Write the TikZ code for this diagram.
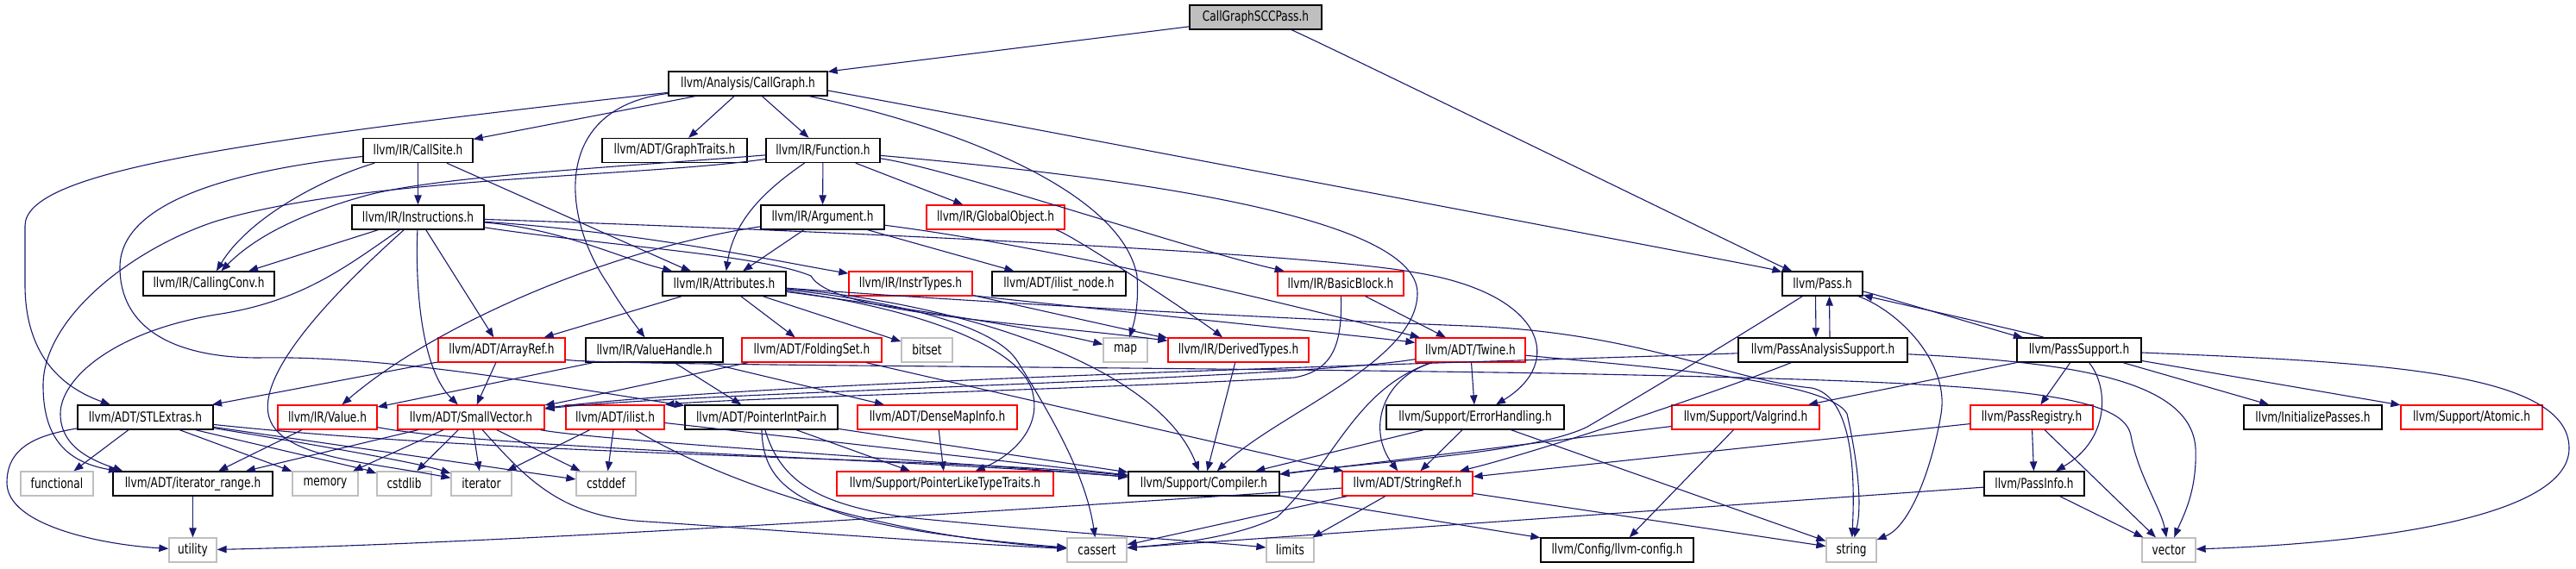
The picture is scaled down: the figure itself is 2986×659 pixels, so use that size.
\documentclass[tikz,border=0pt]{standalone}
\usepackage{fontspec}
\newfontfamily\nodefont{DejaVu Sans}[FakeStretch=0.76]
\usetikzlibrary{arrows.meta}
\definecolor{edgec}{HTML}{191970}
\definecolor{sysc}{HTML}{BFBFBF}
\definecolor{redc}{HTML}{FF0000}
\tikzset{
  box/.style={draw=black, line width=0.65pt, minimum height=14pt, inner sep=0pt, text=black, font=\nodefont\fontsize{8pt}{9pt}\selectfont},
  trunc/.style={box, draw=redc},
  sys/.style={box, draw=sysc},
  rootbox/.style={box, fill=sysc},
  e/.style={draw=edgec, line width=0.55pt, -{Triangle[length=5.5pt,width=4.2pt]}},
}
\begin{document}
\begin{tikzpicture}[x=0.5pt,y=-0.5pt]
\useasboundingbox (0,0) rectangle (2986,659);
% nodes
\node[rootbox,minimum width=76.5pt] (root) at (1455.5,20) {CallGraphSCCPass.h};
\node[box,minimum width=92pt] (cg) at (867,97) {llvm/Analysis/CallGraph.h};
\node[box,minimum width=63.5pt] (cs) at (484.5,174.5) {llvm/IR/CallSite.h};
\node[box,minimum width=84pt] (gt) at (782,174.5) {llvm/ADT/GraphTraits.h};
\node[box,minimum width=66pt] (fn) at (954,174.5) {llvm/IR/Function.h};
\node[box,minimum width=76.5pt] (ins) at (484.5,252) {llvm/IR/Instructions.h};
\node[box,minimum width=71.5pt] (arg) at (953.5,252) {llvm/IR/Argument.h};
\node[trunc,minimum width=80pt] (go) at (1154,252) {llvm/IR/GlobalObject.h};
\node[box,minimum width=76pt] (cc) at (242,329) {llvm/IR/CallingConv.h};
\node[box,minimum width=71.5pt] (attr) at (839.5,329) {llvm/IR/Attributes.h};
\node[trunc,minimum width=71.5pt] (it) at (1055.5,329) {llvm/IR/InstrTypes.h};
\node[box,minimum width=77.5pt] (iln) at (1227.5,329) {llvm/ADT/ilist\_node.h};
\node[trunc,minimum width=73pt] (bb) at (1554,329) {llvm/IR/BasicBlock.h};
\node[box,minimum width=46.5pt] (pass) at (2112.5,329) {llvm/Pass.h};
\node[trunc,minimum width=73.5pt] (ar) at (581.5,406) {llvm/ADT/ArrayRef.h};
\node[box,minimum width=79.5pt] (vh) at (758.5,406) {llvm/IR/ValueHandle.h};
\node[trunc,minimum width=81pt] (fs) at (941,406) {llvm/ADT/FoldingSet.h};
\node[sys,minimum width=29.5pt] (bitset) at (1074.5,406) {bitset};
\node[sys,minimum width=25.5pt] (map) at (1304.5,406) {map};
\node[trunc,minimum width=81.5pt] (dt) at (1435.5,406) {llvm/IR/DerivedTypes.h};
\node[trunc,minimum width=63.5pt] (tw) at (1704.5,406) {llvm/ADT/Twine.h};
\node[box,minimum width=98pt] (pas) at (2113,406) {llvm/PassAnalysisSupport.h};
\node[box,minimum width=72pt] (ps) at (2410,406) {llvm/PassSupport.h};
\node[box,minimum width=78.5pt] (stl) at (168.5,484) {llvm/ADT/STLExtras.h};
\node[trunc,minimum width=57.5pt] (val) at (379.5,484) {llvm/IR/Value.h};
\node[trunc,minimum width=85pt] (sv) at (546,484) {llvm/ADT/SmallVector.h};
\node[trunc,minimum width=57pt] (il) at (713,484) {llvm/ADT/ilist.h};
\node[box,minimum width=88.5pt] (pip) at (882.5,484) {llvm/ADT/PointerIntPair.h};
\node[trunc,minimum width=92.5pt] (dmi) at (1086.5,484) {llvm/ADT/DenseMapInfo.h};
\node[box,minimum width=103pt] (eh) at (1710,484) {llvm/Support/ErrorHandling.h};
\node[trunc,minimum width=85.5pt] (vg) at (2023.5,484) {llvm/Support/Valgrind.h};
\node[trunc,minimum width=71pt] (preg) at (2355,484) {llvm/PassRegistry.h};
\node[box,minimum width=80pt] (ip) at (2681,484) {llvm/InitializePasses.h};
\node[trunc,minimum width=82pt] (atom) at (2865,484) {llvm/Support/Atomic.h};
\node[sys,minimum width=42pt] (func) at (66,561) {functional};
\node[box,minimum width=92.5pt] (itr) at (223.5,561) {llvm/ADT/iterator\_range.h};
\node[sys,minimum width=38pt] (mem) at (377,561) {memory};
\node[sys,minimum width=31.5pt] (cstdlib) at (468.5,561) {cstdlib};
\node[sys,minimum width=35pt] (iter) at (558,561) {iterator};
\node[sys,minimum width=34.5pt] (cstddef) at (702.5,561) {cstddef};
\node[trunc,minimum width=125.5pt] (plt) at (1095.5,561) {llvm/Support/PointerLikeTypeTraits.h};
\node[box,minimum width=87.5pt] (comp) at (1395.5,561) {llvm/Support/Compiler.h};
\node[trunc,minimum width=75.5pt] (sr) at (1631.5,561) {llvm/ADT/StringRef.h};
\node[box,minimum width=58pt] (pinfo) at (2358,561) {llvm/PassInfo.h};
\node[sys,minimum width=27.5pt] (utility) at (223.5,638) {utility};
\node[sys,minimum width=34.5pt] (cassert) at (1271.5,638) {cassert};
\node[sys,minimum width=27.5pt] (limits) at (1495.5,638) {limits};
\node[box,minimum width=88.5pt] (lc) at (1874.5,638) {llvm/Config/llvm-config.h};
\node[sys,minimum width=29pt] (string) at (2146,638) {string};
\node[sys,minimum width=31pt] (vector) at (2514,638) {vector};
% edges: root
\draw[e] (root) .. controls (1370,32) and (968,82) .. (cg);
\draw[e] (root) .. controls (1512,40) and (2057,306) .. (pass);
% CallGraph
\draw[e] (cg) .. controls (800,113) and (556,160) .. (cs);
\draw[e] (cg) -- (gt);
\draw[e] (cg) -- (fn);
\draw[e] (cg) .. controls (260,165) and (29,200) .. (29,262) -- (29,330) .. controls (29,400) and (60,445) .. (stl);
\draw[e] (cg) .. controls (640,125) and (650,250) .. (705,330) .. controls (720,355) and (735,375) .. (vh);
\draw[e] (cg) .. controls (1100,145) and (1300,220) .. (1318,320) .. controls (1320,350) and (1316,370) .. (map);
\draw[e] (cg) .. controls (970,106) and (2046,310) .. (pass);
% CallSite
\draw[e] (cs) -- (ins);
\draw[e] (cs) .. controls (380,205) and (290,250) .. (cc);
\draw[e] (cs) .. controls (522,191) and (792,311) .. (attr);
\draw[e] (cs) .. controls (250,200) and (139,240) .. (139,310) .. controls (139,380) and (200,415) .. (300,415) .. controls (450,412) and (640,447) .. (pip);
% Function
\draw[e] (fn) .. controls (750,205) and (420,205) .. (249,257) .. controls (150,290) and (50,370) .. (50,447) .. controls (50,500) and (70,535) .. (itr);
\draw[e] (fn) .. controls (700,195) and (500,205) .. (420,228) .. controls (360,245) and (300,270) .. (cc);
\draw[e] (fn) -- (arg);
\draw[e] (fn) .. controls (880,225) and (850,260) .. (attr);
\draw[e] (fn) -- (go);
\draw[e] (fn) .. controls (1100,195) and (1380,290) .. (bb);
\draw[e] (fn) .. controls (1300,205) and (1643,250) .. (1643,340) .. controls (1643,420) and (1480,480) .. (comp);
% Instructions
\draw[e] (ins) -- (ar);
\draw[e] (ins) .. controls (481,340) and (490,430) .. (sv);
\draw[e] (ins) .. controls (400,310) and (350,350) .. (250,365) .. controls (130,385) and (70,440) .. (70,480) .. controls (70,520) and (110,535) .. ([xshift=6pt]itr.north west);
\draw[e] (ins) .. controls (650,265) and (720,300) .. (attr);
\draw[e] (ins) -- (cc);
\draw[e] (ins) .. controls (420,310) and (300,420) .. (311,480) .. controls (320,530) and (420,535) .. (iter);
\draw[e] (ins) .. controls (700,285) and (880,295) .. (940,320) .. controls (965,365) and (1200,375) .. (dt);
\draw[e] (ins) .. controls (750,270) and (910,305) .. (it);
\draw[e] (ins) .. controls (800,262) and (1500,290) .. (1640,316) .. controls (1790,340) and (1815,420) .. (eh);
% Argument
\draw[e] (arg) -- (attr);
\draw[e] (arg) -- (iln);
\draw[e] (arg) .. controls (1250,290) and (1560,370) .. (tw);
\draw[e] (arg) .. controls (700,290) and (500,380) .. (val);
% Attributes
\draw[e] (attr) -- (ar);
\draw[e] (attr) -- (fs);
\draw[e] (attr) -- (bitset);
\draw[e] (attr) .. controls (1000,350) and (1200,380) .. (map);
\draw[e] (attr) .. controls (1000,345) and (1150,370) .. (1180,420) .. controls (1230,500) and (1260,560) .. (cassert);
\draw[e] (attr) .. controls (1050,355) and (1190,400) .. (1198,460) .. controls (1205,500) and (1170,530) .. (plt);
\draw[e] (attr) .. controls (1100,350) and (1340,420) .. (comp);
\draw[e] (attr) .. controls (1200,355) and (1500,370) .. (1700,378) .. controls (1900,385) and (2000,440) .. (2100,450) .. controls (2150,460) and (2150,560) .. (string);
% InstrTypes, GlobalObject, BasicBlock
\draw[e] (it) .. controls (1140,345) and (1330,388) .. (dt);
\draw[e] (it) .. controls (1140,345) and (1600,392) .. (tw);
\draw[e] (go) .. controls (1240,270) and (1390,370) .. (dt);
\draw[e] (bb) -- (tw);
\draw[e] (bb) .. controls (1556,400) and (1545,430) .. (1500,438) .. controls (1300,450) and (850,462) .. (il.north east);
% ValueHandle, ArrayRef, FoldingSet
\draw[e] (vh) -- (val);
\draw[e] (vh) -- (pip);
\draw[e] (vh) -- (dmi);
\draw[e] (ar) -- (sv);
\draw[e] (ar) -- (stl);
\draw[e] (ar) .. controls (700,424) and (1300,425) .. (1800,433) .. controls (2300,443) and (2460,452) .. (2470,505) .. controls (2478,550) and (2505,590) .. (vector);
\draw[e] (fs) .. controls (860,422) and (655,466) .. (sv);
\draw[e] (fs) .. controls (1010,422) and (1530,541) .. (sr);
% Pass family
\draw[e] ([xshift=-4pt]pass.south) -- ([xshift=-4pt]pas.north);
\draw[e] ([xshift=4pt]pas.north) -- ([xshift=4pt]pass.south);
\draw[e] (pass) .. controls (2170,340) and (2330,388) .. (ps);
\draw[e] (ps) .. controls (2360,388) and (2170,345) .. (pass);
\draw[e] (pass) .. controls (2000,400) and (1900,460) .. (1840,495) .. controls (1780,525) and (1600,535) .. (comp);
\draw[e] (pass) .. controls (2200,360) and (2260,420) .. (2250,480) .. controls (2240,540) and (2215,610) .. (string);
\draw[e] (pas) .. controls (1800,418) and (900,440) .. (sv);
\draw[e] (pas) .. controls (1990,455) and (1780,525) .. (sr);
\draw[e] (pas) .. controls (2400,420) and (2540,440) .. (2545,520) .. controls (2547,570) and (2530,600) .. (vector);
\draw[e] (ps) -- (vg);
\draw[e] (ps) -- (preg);
\draw[e] (ps) .. controls (2445,450) and (2445,510) .. (pinfo);
\draw[e] (ps) -- (ip);
\draw[e] (ps) -- (atom);
\draw[e] (ps) .. controls (2750,420) and (2978,430) .. (2978,520) .. controls (2978,600) and (2750,630) .. (vector);
\draw[e] (preg) -- (sr);
\draw[e] (preg) -- (pinfo);
\draw[e] (preg) -- (vector);
\draw[e] (pinfo) -- (vector);
\draw[e] (pinfo) -- (cassert);
% ErrorHandling, Twine, StringRef
\draw[e] (eh) -- (comp);
\draw[e] (eh) -- (sr);
\draw[e] (eh) -- (string);
\draw[e] (tw) -- (eh);
\draw[e] (tw) .. controls (1600,440) and (1585,500) .. (sr);
\draw[e] (tw) .. controls (1570,450) and (1545,540) .. (1480,600) .. controls (1430,625) and (1350,632) .. (cassert);
\draw[e] (tw) .. controls (1900,425) and (2120,440) .. (2141,480) .. controls (2150,520) and (2160,580) .. (string);
\draw[e] (tw) .. controls (1500,440) and (800,455) .. (sv);
\draw[e] (sr) .. controls (1200,590) and (600,630) .. (utility);
\draw[e] (sr) .. controls (1550,578) and (1315,630) .. (cassert);
\draw[e] (sr) -- (limits);
\draw[e] (sr) -- (string);
% Compiler, Valgrind, DerivedTypes
\draw[e] (comp) -- (lc);
\draw[e] (vg) -- (comp);
\draw[e] (vg) -- (lc);
\draw[e] (dt) -- (comp);
% ilist, PointerIntPair, DenseMapInfo
\draw[e] (il) -- (iter);
\draw[e] (il) -- (cstddef);
\draw[e] (il) -- (comp);
\draw[e] (il) .. controls (820,550) and (1000,620) .. (cassert);
\draw[e] (pip) -- (plt);
\draw[e] (pip) -- (comp);
\draw[e] (pip) .. controls (885,570) and (930,610) .. (cassert);
\draw[e] (pip) .. controls (905,560) and (950,585) .. (1050,600) .. controls (1250,620) and (1400,628) .. (limits);
\draw[e] (dmi) -- (plt);
% SmallVector
\draw[e] (sv) -- (itr);
\draw[e] (sv) -- (mem);
\draw[e] (sv) -- (cstdlib);
\draw[e] (sv) -- (iter);
\draw[e] (sv) -- (cstddef);
\draw[e] (sv) .. controls (610,555) and (650,600) .. (750,605) .. controls (900,615) and (1100,630) .. (cassert);
\draw[e] (sv) .. controls (700,512) and (1100,535) .. (comp);
% STLExtras, Value, iterator_range
\draw[e] (stl) -- (func);
\draw[e] (stl) .. controls (40,505) and (8,520) .. (8,560) .. controls (8,610) and (120,632) .. (utility);
\draw[e] (stl) -- (mem);
\draw[e] (stl) .. controls (240,502) and (425,545) .. (cstdlib);
\draw[e] (stl) .. controls (300,505) and (480,535) .. (iter);
\draw[e] (stl) -- (cstddef);
\draw[e] (stl) .. controls (600,530) and (1100,530) .. (comp);
\draw[e] (val) -- (itr);
\draw[e] (val) .. controls (560,520) and (1100,535) .. (comp);
\draw[e] (itr) -- (utility);
\end{tikzpicture}
\end{document}
